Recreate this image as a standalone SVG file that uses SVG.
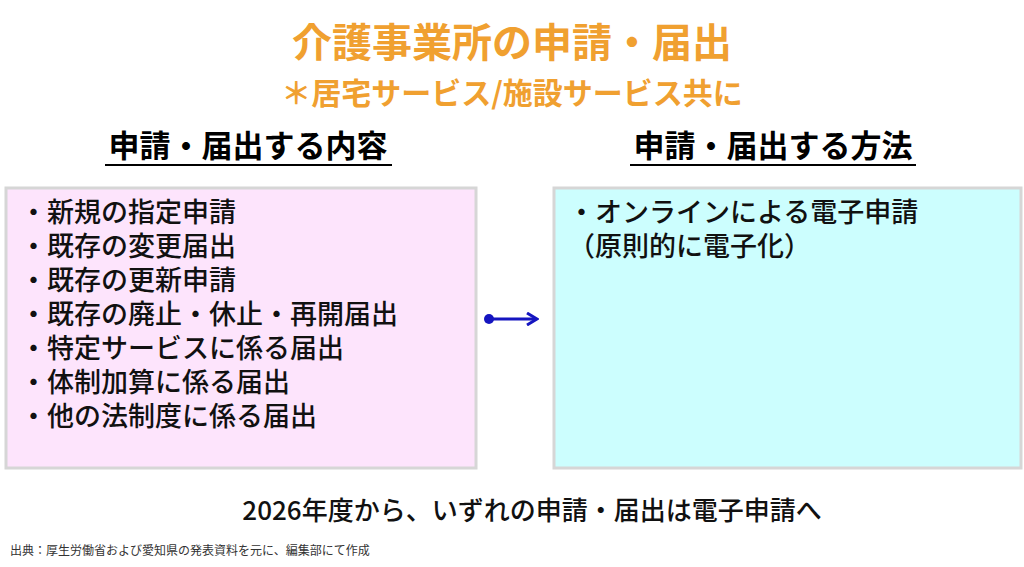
<svg xmlns="http://www.w3.org/2000/svg" width="1024" height="567" viewBox="0 0 1024 567">
<style>
text{font-family:"Noto Sans CJK JP","Noto Sans CJK SC",sans-serif}
.t{fill:#f0a030;font-weight:bold;text-anchor:middle}
.h{font-size:31px;font-weight:bold;text-anchor:middle;fill:#000}
.i{font-size:27px;font-weight:500;fill:#111}
.box{stroke:#d6d6d6;stroke-width:3}
</style>
<defs><marker id="ah" markerWidth="14" markerHeight="14" refX="11" refY="7" orient="auto" markerUnits="userSpaceOnUse"><path d="M2,1 L12,7 L2,13" fill="none" stroke="#1515c0" stroke-width="3"/></marker></defs>
<rect width="1024" height="567" fill="#fff"/>
<text class="t" x="512" y="57" font-size="40">介護事業所の申請・届出</text>
<text class="t" x="512" y="104" font-size="30">＊居宅サービス/施設サービス共に</text>
<text class="h" x="248" y="157">申請・届出する内容</text>
<line x1="105" y1="165" x2="392" y2="165" stroke="#000" stroke-width="2"/>
<text class="h" x="773" y="157">申請・届出する方法</text>
<line x1="630" y1="165" x2="916" y2="165" stroke="#000" stroke-width="2"/>
<g id="left">
<rect class="box" x="6" y="188" width="470" height="280" fill="#fde4fc"/>
<text class="i" x="20" y="222">・新規の指定申請</text>
<text class="i" x="20" y="256">・既存の変更届出</text>
<text class="i" x="20" y="290">・既存の更新申請</text>
<text class="i" x="20" y="324">・既存の廃止・休止・再開届出</text>
<text class="i" x="20" y="358">・特定サービスに係る届出</text>
<text class="i" x="20" y="392">・体制加算に係る届出</text>
<text class="i" x="20" y="426">・他の法制度に係る届出</text>
</g>
<g id="right">
<rect class="box" x="554" y="188" width="467" height="280" fill="#ccfefe"/>
<text class="i" x="568" y="222">・オンラインによる電子申請</text>
<text class="i" x="568" y="256">（原則的に電子化）</text>
</g>
<g id="connectors">
<circle cx="489" cy="319" r="5" fill="#1515c0"/>
<line x1="489" y1="319" x2="536" y2="319" stroke="#1515c0" stroke-width="3" marker-end="url(#ah)"/>
</g>
<text x="532" y="520" font-size="26" font-weight="500" text-anchor="middle" fill="#111">2026年度から、いずれの申請・届出は電子申請へ</text>
<text x="10" y="555" font-size="12" fill="#333">出典：厚生労働省および愛知県の発表資料を元に、編集部にて作成</text>
</svg>
